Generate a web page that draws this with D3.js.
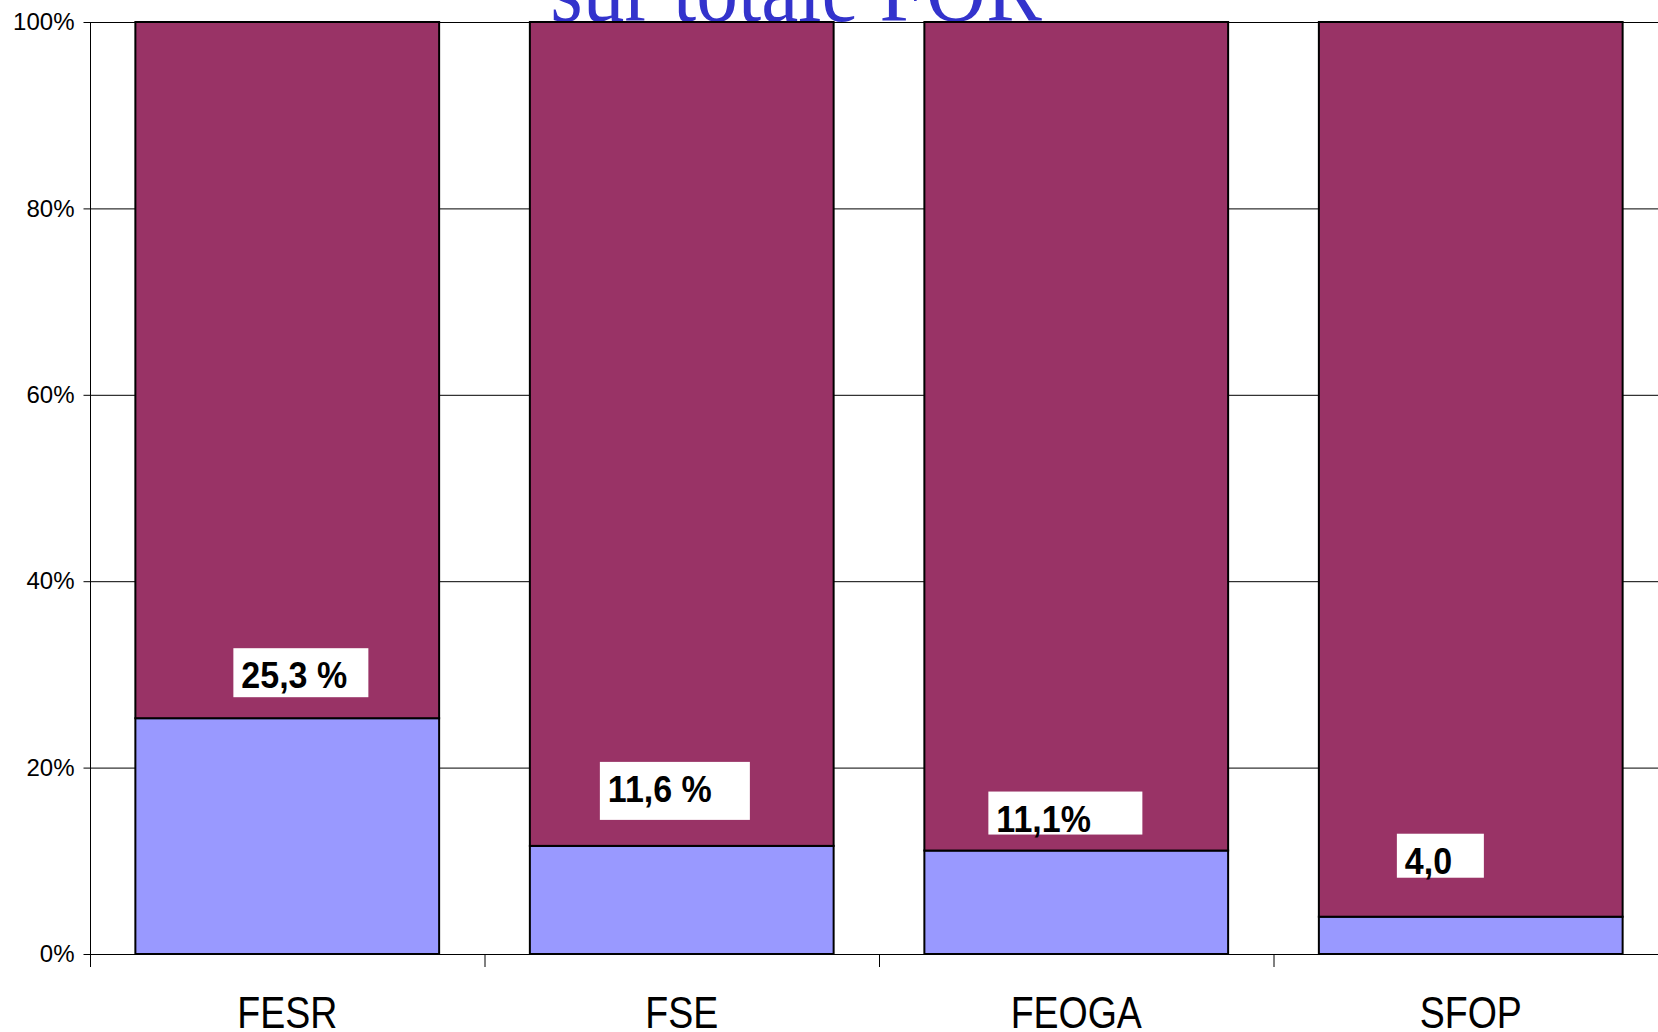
<!DOCTYPE html>
<meta charset="utf-8">
<style>
body { margin: 0; background: #fff; }
svg { display: block; }
.tick text { font-family: "Liberation Sans", Arial, sans-serif; fill: #000; }
</style>
<body>
<script src="https://cdn.jsdelivr.net/npm/d3@7"></script>
<script>

var categories = ["FESR", "FSE", "FEOGA", "SFOP"];
var shareValues = [0.253, 0.116, 0.111, 0.040];
var shareLabels = ["25,3 %", "11,6 %", "11,1%", "4,0"];
var yTicks = [0, 0.2, 0.4, 0.6, 0.8, 1];
var titleText = "sur totale FOR";

// label box nudges, relative to bar left edge and segment boundary
var labelBoxes = [
  { dx: 98, gap: 21, w: 135, h: 49 },
  { dx: 70, gap: 26, w: 150, h: 58 },
  { dx: 64, gap: 16, w: 154, h: 43 },
  { dx: 78, gap: 39, w: 87, h: 44 }
];

var width = 1658,
    height = 1032;

var table = categories.map(function(c, i) {
  return { cat: c, share: shareValues[i], rest: 1 - shareValues[i] };
});

var stack = d3.stack().keys(["share", "rest"]);
var series = stack(table);
var colors = { share: "#9999ff", rest: "#993366" };

var x = d3.scaleBand()
    .domain(categories)
    .range([90, 90 + 4 * 394.5])
    .paddingInner(0.23)
    .paddingOuter(0.115);

var y = d3.scaleLinear()
    .domain([0, 1])
    .range([954, 22]);

var svg = d3.select("body").append("svg")
    .attr("width", width)
    .attr("height", height);

// gridlines
svg.append("g")
  .selectAll("line")
  .data(yTicks.filter(function(d) { return d > 0; }))
  .enter().append("line")
    .attr("x1", 90)
    .attr("x2", width)
    .attr("y1", function(d) { return y(d) + 0.5; })
    .attr("y2", function(d) { return y(d) + 0.5; })
    .attr("stroke", "#000")
    .attr("stroke-width", 1);

// title (only the bottom line peeks in at the top)
svg.append("text")
    .attr("transform", "translate(796,21) scale(1,1.1)")
    .attr("text-anchor", "middle")
    .style("font-family", "'Liberation Serif', 'Times New Roman', serif")
    .style("font-size", "83.5px")
    .attr("fill", "#3333cc")
    .text(titleText);

// bars
svg.append("g")
  .selectAll("g")
  .data(series)
  .enter().append("g")
    .attr("fill", function(s) { return colors[s.key]; })
  .selectAll("rect")
  .data(function(s) { return s; })
  .enter().append("rect")
    .attr("x", function(d) { return x(d.data.cat); })
    .attr("y", function(d) { return y(d[1]); })
    .attr("width", x.bandwidth())
    .attr("height", function(d) { return y(d[0]) - y(d[1]); })
    .attr("stroke", "#000")
    .attr("stroke-width", 2);

// y axis
var yAxis = svg.append("g")
    .attr("transform", "translate(90.5,0)")
    .call(d3.axisLeft(y)
      .tickValues(yTicks)
      .tickFormat(d3.format(".0%"))
      .tickSize(7)
      .tickPadding(9));
yAxis.select(".domain").attr("stroke", "#000").attr("d", "M0," + y(1) + "V" + y(0));
yAxis.selectAll(".tick line").attr("stroke", "#000");
yAxis.selectAll(".tick text").style("font-size", "24px");

// x axis baseline and band separators
svg.append("line")
    .attr("x1", 90)
    .attr("x2", width)
    .attr("y1", y(0) + 0.5)
    .attr("y2", y(0) + 0.5)
    .attr("stroke", "#000");

var step = x.step();
svg.append("g")
  .selectAll("line")
  .data(d3.range(categories.length + 1))
  .enter().append("line")
    .attr("x1", function(i) { return x.range()[0] + i * step + 0.5; })
    .attr("x2", function(i) { return x.range()[0] + i * step + 0.5; })
    .attr("y1", y(0))
    .attr("y2", y(0) + 13)
    .attr("stroke", "#000");

// category labels
svg.append("g")
  .selectAll("text")
  .data(categories)
  .enter().append("text")
    .attr("transform", function(d) {
      return "translate(" + (x(d) + x.bandwidth() / 2) + ",1028) scale(1,1.17)";
    })
    .attr("text-anchor", "middle")
    .style("font-family", "'Liberation Sans', Arial, sans-serif")
    .style("font-size", "37.5px")
    .text(function(d) { return d; });

// value labels with white boxes
var labels = svg.append("g")
  .selectAll("g")
  .data(table)
  .enter().append("g")
    .attr("transform", function(d, i) {
      var b = labelBoxes[i];
      return "translate(" + (x(d.cat) + b.dx) + "," + (y(d.share) - b.gap - b.h) + ")";
    });

labels.append("rect")
    .attr("width", function(d, i) { return labelBoxes[i].w; })
    .attr("height", function(d, i) { return labelBoxes[i].h; })
    .attr("fill", "#fff");

labels.append("text")
    .attr("transform", "translate(8,40) scale(1,1.1)")
    .style("font-family", "'Liberation Sans', Arial, sans-serif")
    .style("font-size", "34px")
    .style("font-weight", "bold")
    .attr("fill", "#000")
    .text(function(d, i) { return shareLabels[i]; });

</script>
</body>
